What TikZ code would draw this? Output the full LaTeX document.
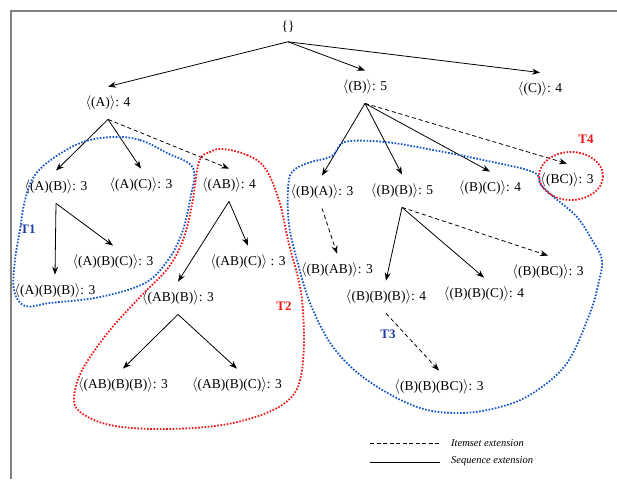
\documentclass[tikz,border=0pt]{standalone}
\usepackage{fontspec}
\setmainfont{Liberation Serif}
\usepackage{amsmath}
\usetikzlibrary{arrows.meta}
\definecolor{treeblue}{RGB}{20,85,200}
\definecolor{treered}{RGB}{240,20,20}
\definecolor{labblue}{RGB}{30,60,170}
\newcommand{\sqn}[2]{$\langle$#1$\rangle$#2}
\begin{document}
\begin{tikzpicture}[
		x=1pt,y=-1pt,
		itm/.style={inner xsep=1pt,inner ysep=9pt,font=\fontsize{13.5}{16}\selectfont},
		seqx/.style={draw,line width=0.8pt,-{Stealth[length=8pt,width=6pt]}},
		itmx/.style={seqx,dash pattern=on 4pt off 3pt},
		grp/.style={line width=1.8pt,dash pattern=on 1.6pt off 1.6pt},
		tlab/.style={font=\fontsize{13}{15}\selectfont\bfseries},
		leg/.style={font=\fontsize{10.5}{12}\selectfont\itshape,anchor=west,inner sep=0pt}
		]
		\useasboundingbox (0,0) rectangle (617,479);
		\draw[gray,line width=1.5pt] (11,479) -- (11,11) -- (617,11);
		\node[itm] (root) at (288,27) {\{\}};
		\node[itm] (a) at (108,103) {\sqn{(A)}{: 4}};
		\node[itm] (b) at (365,87) {\sqn{(B)}{: 5}};
		\node[itm] (c) at (540,89) {\sqn{(C)}{: 4}};
		\node[itm] (a-b) at (56,187) {\sqn{(A)(B)}{: 3}};
		\node[itm] (a-c) at (141,185) {\sqn{(A)(C)}{: 3}};
		\node[itm] (ab) at (229,185) {\sqn{(AB)}{: 4}};
		\node[itm] (b-a) at (322,192) {\sqn{(B)(A)}{: 3}};
		\node[itm] (b-b) at (402,191) {\sqn{(B)(B)}{: 5}};
		\node[itm] (b-c) at (490,188) {\sqn{(B)(C)}{: 4}};
		\node[itm] (bc) at (567,180) {\sqn{(BC)}{: 3}};
		\node[itm] (a-b-c) at (113,262) {\sqn{(A)(B)(C)}{: 3}};
		\node[itm] (a-b-b) at (55,291) {\sqn{(A)(B)(B)}{: 3}};
		\node[itm] (ab-c) at (248,262) {\sqn{(AB)(C)}{ : 3}};
		\node[itm] (ab-b) at (178,298) {\sqn{(AB)(B)}{: 3}};
		\node[itm] (ab-b-b) at (123,385) {\sqn{(AB)(B)(B)}{: 3}};
		\node[itm] (ab-b-c) at (237,385) {\sqn{(AB)(B)(C)}{: 3}};
		\node[itm] (b-ab) at (337,270) {\sqn{(B)(AB)}{: 3}};
		\node[itm] (b-b-b) at (386,297) {\sqn{(B)(B)(B)}{: 4}};
		\node[itm] (b-b-c) at (484,294) {\sqn{(B)(B)(C)}{: 4}};
		\node[itm] (b-bc) at (548,272) {\sqn{(B)(BC)}{: 3}};
		\node[itm] (b-b-bc) at (439,387) {\sqn{(B)(B)(BC)}{: 3}};
		\draw[seqx] (root.south) -- (a.north);
		\draw[seqx] (root.south) -- (b.north);
		\draw[seqx] (root.south) -- (c.north);
		\draw[seqx] (a.south) -- (a-b.north);
		\draw[seqx] (a.south) -- (a-c.north);
		\draw[itmx] (a.south) -- (ab.north);
		\draw[seqx] (a-b.south) -- (a-b-c.north);
		\draw[seqx] (a-b.south) -- (a-b-b.north);
		\draw[seqx] (ab.south) -- (ab-c.north);
		\draw[seqx] (ab.south) -- (ab-b.north);
		\draw[seqx] (ab-b.south) -- (ab-b-b.north);
		\draw[seqx] (ab-b.south) -- (ab-b-c.north);
		\draw[seqx] (b.south) -- (b-a.north);
		\draw[seqx] (b.south) -- (b-b.north);
		\draw[seqx] (b.south) -- (b-c.north);
		\draw[itmx] (b.south) -- (bc.north);
		\draw[itmx] (b-a.south) -- (b-ab.north);
		\draw[seqx] (b-b.south) -- (b-b-b.north);
		\draw[seqx] (b-b.south) -- (b-b-c.north);
		\draw[itmx] (b-b.south) -- (b-bc.north);
		\draw[itmx] (b-b-b.south) -- (b-b-bc.north);
		\draw[grp,treeblue] plot[smooth cycle,tension=0.6] coordinates {(113,137) (140,140) (167,153) (193,168) (190,200) (182,233) (168,260) (145,283) (100,297) (50,303) (25,306) (14,290) (15,260) (20,230) (25,200) (35,175) (55,157) (83,142)};
		\draw[grp,treered] plot[smooth cycle,tension=0.6] coordinates {(223,149) (247,155) (265,168) (279,200) (288,240) (302,300) (302,370) (285,403) (233,423) (167,429) (110,425) (78,410) (75,390) (85,365) (110,330) (140,297) (168,268) (183,240) (192,205) (199,162) (210,152)};
		\draw[grp,treeblue] plot[smooth cycle,tension=0.6] coordinates {(345,142) (385,142) (433,150) (483,160) (533,172) (541,185) (555,198) (577,217) (592,240) (602,260) (598,285) (590,313) (567,363) (533,393) (500,407) (460,413) (417,407) (367,380) (333,347) (310,303) (297,260) (289,225) (288,190) (292,172) (308,163) (332,156)};
		\draw[grp,treered] (571,176) ellipse[x radius=32,y radius=24];
		\node[tlab,labblue] (t1) at (28,229) {T1};
		\node[tlab,treered] (t2) at (284,306) {T2};
		\node[tlab,labblue] (t3) at (388,334) {T3};
		\node[tlab,treered] (t4) at (586,139) {T4};
		\coordinate (d1) at (370,443);
		\coordinate (d2) at (440,443);
		\coordinate (s1) at (370,462);
		\coordinate (s2) at (440,462);
		\draw[line width=0.9pt,dash pattern=on 4pt off 2.5pt] (d1) -- (d2);
		\draw[line width=0.9pt] (s1) -- (s2);
		\node[leg] (li) at (451,443) {Itemset extension};
		\node[leg] (ls) at (451,461) {Sequence extension};
\end{tikzpicture}
\end{document}
